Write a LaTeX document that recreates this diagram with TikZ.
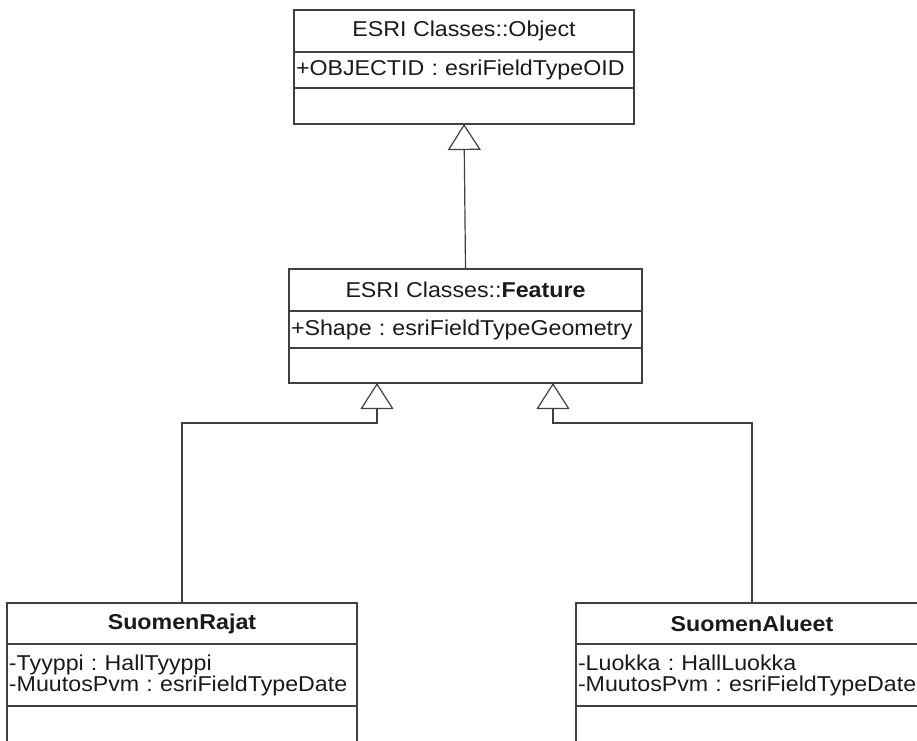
\documentclass[tikz,border=0pt]{standalone}
\usepackage{fontspec}
\setmainfont{Liberation Sans}[FakeStretch=1.08]
\usetikzlibrary{positioning,arrows.meta}
\definecolor{umlline}{HTML}{404040}
\definecolor{umltext}{HTML}{1A1A1A}
\frenchspacing

\begin{document}
\begin{tikzpicture}[x=1pt, y=-1pt, font=\fontsize{21.5}{21}\selectfont,
    every node/.style={outer sep=0pt, text=umltext},
    box/.style={draw=umlline, line width=1.2pt, inner sep=0pt},
    head/.style={box},
    attrs/.style={box, align=left, inner xsep=2pt},
    opers/.style={box},
    inherit/.style={draw=umlline, line width=1.2pt, -{Triangle[open, length=26pt, width=33pt, fill=white]}}]
    \path[use as bounding box, clip] (0,0) rectangle (917,740);
    % top class
    \node [head, minimum width=340pt, minimum height=42pt] (objh) at (464,31) {ESRI Classes::Object};
    \node [attrs, text width=336pt, minimum height=36pt, below=0pt of objh] (obja) {+OBJECTID : esriFieldTypeOID};
    \node [opers, minimum width=340pt, minimum height=36pt, below=0pt of obja] (objo) {};
    % feature
    \node [head, minimum width=353pt, minimum height=42pt] (feath) at (465.5,290) {ESRI Classes::\textbf{Feature}};
    \node [attrs, text width=349pt, minimum height=37pt, below=0pt of feath] (feata) {+Shape : esriFieldTypeGeometry};
    \node [opers, minimum width=353pt, minimum height=35pt, below=0pt of feata] (feato) {};
    % subclasses
    \node [head, minimum width=350pt, minimum height=41pt] (rajh) at (182,623.5) {\textbf{SuomenRajat}};
    \node [attrs, text width=346pt, minimum height=62pt, below=0pt of rajh] (raja) {-Tyyppi : HallTyyppi\\-MuutosPvm : esriFieldTypeDate};
    \node [opers, minimum width=350pt, minimum height=60pt, below=0pt of raja] (rajo) {};
    \node [head, minimum width=352pt, minimum height=41pt] (alueh) at (752,623.5) {\textbf{SuomenAlueet}};
    \node [attrs, text width=348pt, minimum height=62pt, below=0pt of alueh] (aluea) {-Luokka : HallLuokka\\-MuutosPvm : esriFieldTypeDate};
    \node [opers, minimum width=352pt, minimum height=60pt, below=0pt of aluea] (alueo) {};
    \coordinate (jointL) at (377,423);
    \coordinate (jointR) at (553,423);
    \draw [inherit] (feath.north) -- (objo.south);
    \draw [inherit] (rajh.north) |- (jointL) -- (jointL |- feato.south);
    \draw [inherit] (alueh.north) |- (jointR) -- (jointR |- feato.south);
  \end{tikzpicture}
\end{document}
